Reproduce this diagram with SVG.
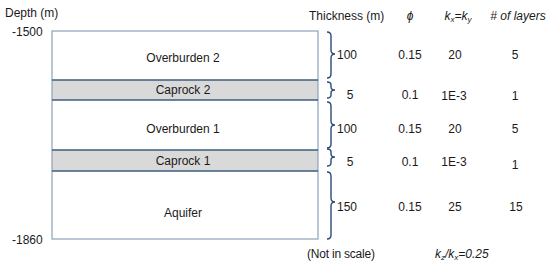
<svg xmlns="http://www.w3.org/2000/svg" width="550" height="268" viewBox="0 0 550 268">
<style>
text{font-family:"Liberation Sans",Arial,sans-serif;font-size:12px;fill:#1a1a1a}
.c{text-anchor:middle}
.i{font-style:italic}
.sub{font-size:8px}
.layer{stroke:none}
.sep{stroke:#3e5c80;stroke-width:1.5;fill:none}
.brace{fill:none;stroke:#2c4a78;stroke-width:1.4}
</style>
<rect width="550" height="268" fill="#ffffff"/>
<text x="5" y="17">Depth (m)</text>
<text x="12" y="36">-1500</text>
<text x="12" y="244">-1860</text>
<g id="headers">
<text x="309" y="20">Thickness (m)</text>
<text class="c i" x="410" y="20">ϕ</text>
<text class="c i" x="458" y="20">k<tspan class="sub" dy="2">x</tspan><tspan dy="-2">=k</tspan><tspan class="sub" dy="2">y</tspan></text>
<text class="c i" x="518" y="20"># of layers</text>
</g>
<g id="overburden2">
<rect x="52" y="31" width="266" height="49" fill="#ffffff"/>
<text class="c" x="183" y="62">Overburden 2</text>
</g>
<g id="caprock2">
<rect x="52" y="80" width="266" height="20" fill="#d9d9d9"/>
<text class="c" x="183" y="94">Caprock 2</text>
</g>
<g id="overburden1">
<rect x="52" y="100" width="266" height="50" fill="#ffffff"/>
<text class="c" x="183" y="133">Overburden 1</text>
</g>
<g id="caprock1">
<rect x="52" y="150" width="266" height="21" fill="#d9d9d9"/>
<text class="c" x="183" y="165">Caprock 1</text>
</g>
<g id="aquifer">
<rect x="52" y="171" width="266" height="68" fill="#ffffff"/>
<text class="c" x="183" y="217">Aquifer</text>
</g>
<rect x="52" y="31" width="266" height="208" fill="none" stroke="#8aa2bb" stroke-width="1.2"/>
<g id="connectors">
<line class="sep" x1="52" y1="80" x2="318" y2="80"/>
<line class="sep" x1="52" y1="100" x2="318" y2="100"/>
<line class="sep" x1="52" y1="150" x2="318" y2="150"/>
<line class="sep" x1="52" y1="171" x2="318" y2="171"/>
<path class="brace" d="M327,32 Q331,32 331,36 V50 Q331,54 335,54 Q331,54 331,58 V74 Q331,78 327,78"/>
<path class="brace" d="M327,82 Q331,82 331,85 V87 Q331,90 335,90 Q331,90 331,93 V95 Q331,98 327,98"/>
<path class="brace" d="M327,102 Q331,102 331,106 V121 Q331,125 335,125 Q331,125 331,129 V144 Q331,148 327,148"/>
<path class="brace" d="M327,149 Q331,149 331,152 V154 Q331,157 335,157 Q331,157 331,160 V163 Q331,166 327,166"/>
<path class="brace" d="M327,172 Q331,172 331,176 V198 Q331,202 335,202 Q331,202 331,206 V235 Q331,239 327,239"/>
</g>
<g id="row1">
<text x="337" y="59">100</text>
<text class="c" x="410" y="59">0.15</text>
<text class="c" x="455" y="59">20</text>
<text class="c" x="515" y="59">5</text>
</g>
<g id="row2">
<text class="c" x="350" y="99">5</text>
<text class="c" x="410" y="99">0.1</text>
<text class="c" x="454" y="100">1E-3</text>
<text class="c" x="515" y="100">1</text>
</g>
<g id="row3">
<text x="337" y="133">100</text>
<text class="c" x="410" y="133">0.15</text>
<text class="c" x="455" y="133">20</text>
<text class="c" x="515" y="133">5</text>
</g>
<g id="row4">
<text class="c" x="350" y="166">5</text>
<text class="c" x="410" y="166">0.1</text>
<text class="c" x="454" y="166">1E-3</text>
<text class="c" x="515" y="169">1</text>
</g>
<g id="row5">
<text x="337" y="211">150</text>
<text class="c" x="410" y="211">0.15</text>
<text class="c" x="455" y="211">25</text>
<text class="c" x="516" y="211">15</text>
</g>
<text x="307" y="258" textLength="68">(Not in scale)</text>
<text class="i" x="435" y="258">k<tspan class="sub" dy="2">z</tspan><tspan dy="-2">/k</tspan><tspan class="sub" dy="2">x</tspan><tspan dy="-2">=0.25</tspan></text>
</svg>
